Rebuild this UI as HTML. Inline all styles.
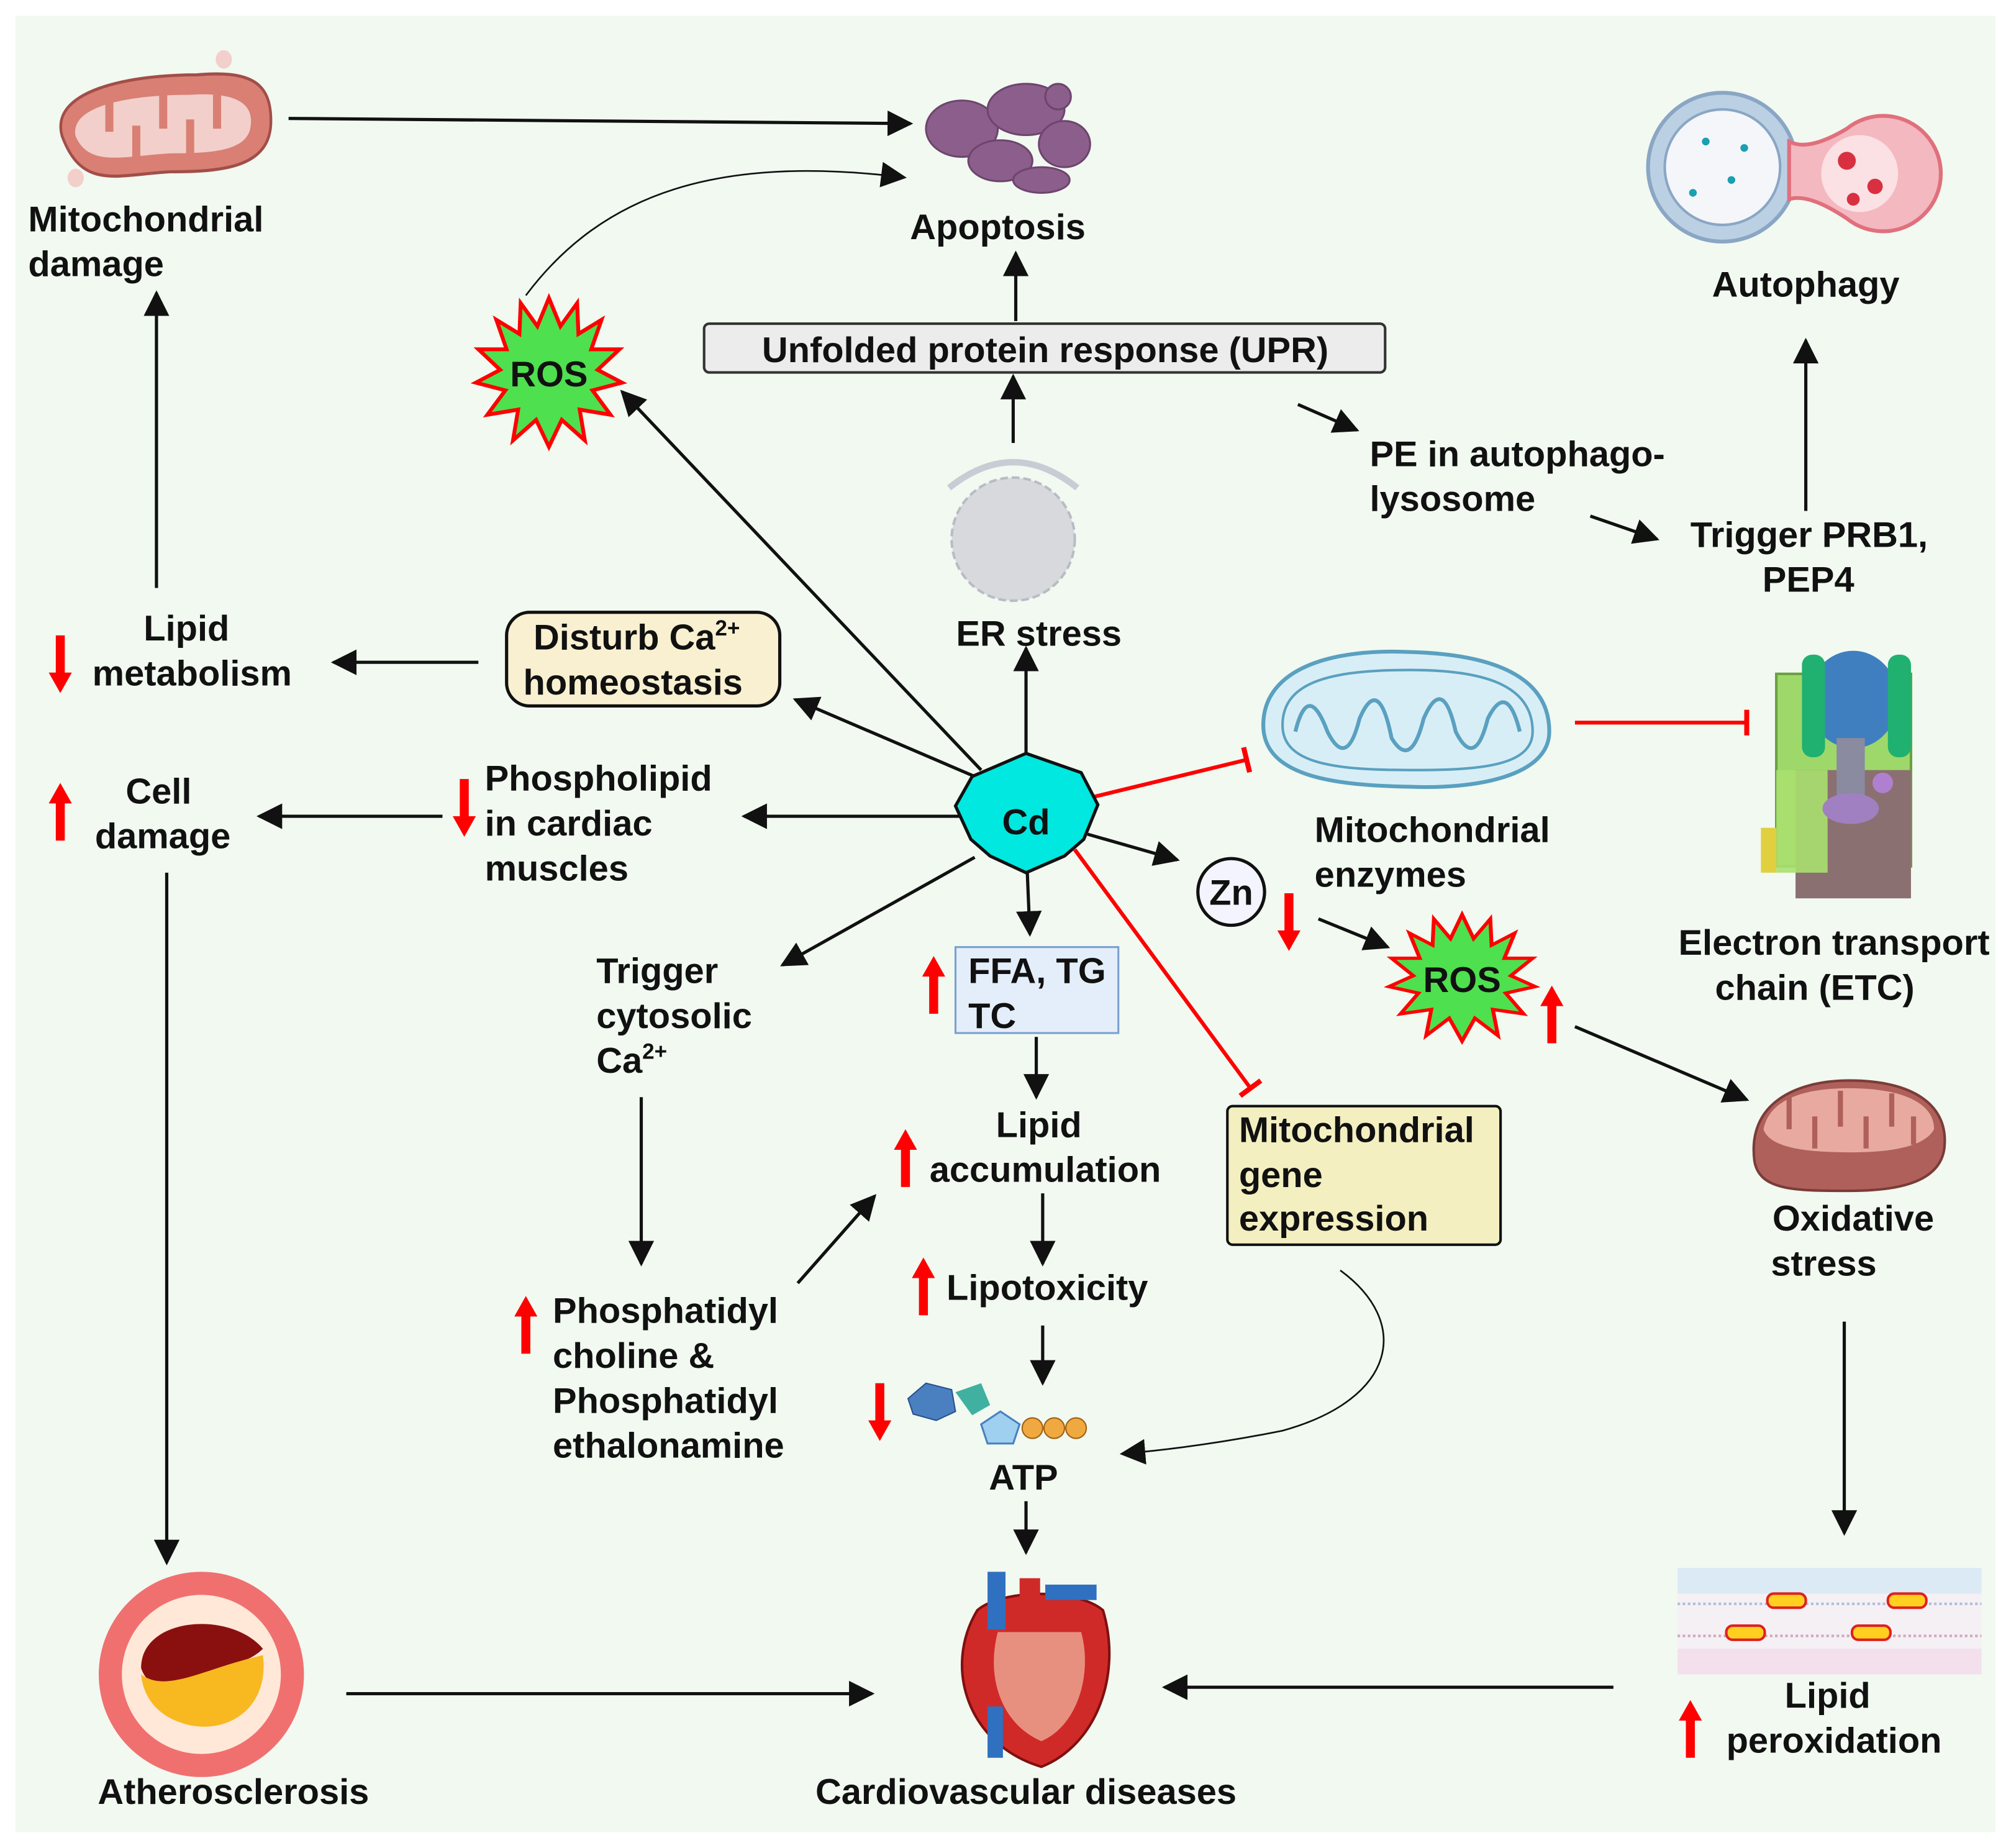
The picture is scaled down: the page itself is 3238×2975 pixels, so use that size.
<!DOCTYPE html>
<html><head><meta charset="utf-8"><style>
html,body{margin:0;padding:0;background:#fff;}
svg{display:block;}
text{font-family:"Liberation Sans",Arial,sans-serif;font-weight:bold;font-size:28px;fill:#111;}
</style></head><body>
<svg width="3238" height="2975" viewBox="0 0 1568 1440" xmlns="http://www.w3.org/2000/svg">
<defs>
<marker id="ab" viewBox="0 0 10 10" refX="9" refY="5" markerWidth="20" markerHeight="20" markerUnits="userSpaceOnUse" orient="auto"><path d="M0,0L10,5L0,10z" fill="#111"/></marker>
<marker id="t" viewBox="0 0 4 20" refX="2" refY="10" markerWidth="4" markerHeight="20" markerUnits="userSpaceOnUse" orient="auto"><rect x="0" y="0" width="4" height="20" fill="#f00"/></marker>
<g id="up"><path d="M0,0L-9,16L-3.5,16L-3.5,45L3.5,45L3.5,16L9,16z" fill="#f00"/></g>
</defs>
<rect x="12" y="12" width="1544" height="1416" fill="#f1f9f1"/>

<g stroke="#111" stroke-width="2.5" fill="none" marker-end="url(#ab)">
<line x1="225" y1="92" x2="710" y2="96"/>
<line x1="122" y1="458" x2="122" y2="228"/>
<line x1="792" y1="250" x2="792" y2="197"/>
<line x1="790" y1="345" x2="790" y2="293"/>
<line x1="800" y1="595" x2="800" y2="505"/>
<line x1="1408" y1="398" x2="1408" y2="265"/>
<line x1="1012" y1="315" x2="1058" y2="335"/>
<line x1="1240" y1="402" x2="1292" y2="420"/>
<line x1="373" y1="516" x2="260" y2="516"/>
<line x1="345" y1="636" x2="202" y2="636"/>
<line x1="760" y1="605" x2="620" y2="545"/>
<line x1="750" y1="636" x2="580" y2="636"/>
<line x1="765" y1="600" x2="485" y2="305"/>
<line x1="760" y1="668" x2="610" y2="752"/>
<line x1="801" y1="680" x2="803" y2="728"/>
<line x1="848" y1="650" x2="918" y2="670"/>
<line x1="1028" y1="716" x2="1082" y2="738"/>
<line x1="1228" y1="800" x2="1362" y2="857"/>
<line x1="1438" y1="1030" x2="1438" y2="1195"/>
<line x1="1258" y1="1315" x2="908" y2="1315"/>
<line x1="270" y1="1320" x2="680" y2="1320"/>
<line x1="130" y1="680" x2="130" y2="1218"/>
<line x1="500" y1="855" x2="500" y2="985"/>
<line x1="622" y1="1000" x2="682" y2="932"/>
<line x1="808" y1="808" x2="808" y2="855"/>
<line x1="813" y1="930" x2="813" y2="985"/>
<line x1="813" y1="1033" x2="813" y2="1078"/>
<line x1="800" y1="1170" x2="800" y2="1210"/>
<path d="M410,230 C470,150 560,120 705,138" stroke-width="1.3"/>
<path d="M1045,990 C1100,1030 1090,1090 1000,1115 C950,1125 910,1130 875,1133" stroke-width="1.3"/>
</g>
<g stroke="#f00" stroke-width="3" fill="none" marker-end="url(#t)">
<line x1="848" y1="622" x2="972" y2="592"/>
<line x1="838" y1="662" x2="975" y2="848"/>
<line x1="1228" y1="563" x2="1362" y2="563"/>
</g>

<!-- mitochondrial damage -->
<g transform="translate(38,40) scale(1.05,1.2)">
<path d="M10,55 C0,25 60,15 110,15 C150,12 165,20 165,45 C165,75 130,78 90,78 C50,80 25,90 10,55z" fill="#d97f74" stroke="#a24e48" stroke-width="2"/>
<path d="M20,55 C15,35 60,28 105,28 C140,26 152,34 150,48 C148,65 120,66 90,66 C55,68 30,75 20,55z" fill="#f2cfca"/>
<g stroke="#d97f74" stroke-width="6"><line x1="45" y1="30" x2="45" y2="52"/><line x1="65" y1="70" x2="65" y2="48"/><line x1="85" y1="28" x2="85" y2="50"/><line x1="105" y1="66" x2="105" y2="44"/><line x1="125" y1="28" x2="125" y2="50"/></g>
<circle cx="130" cy="5" r="6" fill="#f2cfca"/><circle cx="20" cy="82" r="6" fill="#f2cfca"/>
</g>
<!-- apoptosis -->
<g fill="#8c5e8c" stroke="#6d456d" stroke-width="1.5">
<ellipse cx="750" cy="100" rx="28" ry="22"/><ellipse cx="800" cy="85" rx="30" ry="20"/><ellipse cx="830" cy="112" rx="20" ry="18"/><ellipse cx="780" cy="125" rx="25" ry="16"/><circle cx="825" cy="75" r="10"/><ellipse cx="812" cy="140" rx="22" ry="10"/>
</g>
<text x="778" y="186" text-anchor="middle">Apoptosis</text>
<text x="22" y="180">Mitochondrial</text><text x="22" y="215">damage</text>

<!-- ROS stars -->
<polygon transform="translate(428,290)" fill="#4ee04e" stroke="#f00" stroke-width="3" points="0,-58 9,-36 22,-54 23,-30 41,-41 33,-18 55,-18 38,-2 57,8 34,14 48,33 24,29 28,53 10,37 0,58 -10,37 -28,53 -24,29 -48,33 -34,14 -57,8 -38,-2 -55,-18 -33,-18 -41,-41 -23,-30 -22,-54 -9,-36"/>
<text x="428" y="301" text-anchor="middle">ROS</text>
<polygon transform="translate(1140,762) scale(1,0.85)" fill="#4ee04e" stroke="#f00" stroke-width="3" points="0,-58 9,-36 22,-54 23,-30 41,-41 33,-18 55,-18 38,-2 57,8 34,14 48,33 24,29 28,53 10,37 0,58 -10,37 -28,53 -24,29 -48,33 -34,14 -57,8 -38,-2 -55,-18 -33,-18 -41,-41 -23,-30 -22,-54 -9,-36"/>
<text x="1140" y="773" text-anchor="middle">ROS</text>

<!-- UPR -->
<rect x="549" y="252" width="531" height="38" rx="4" fill="#ececec" stroke="#333" stroke-width="2"/>
<text x="815" y="282" text-anchor="middle">Unfolded protein response (UPR)</text>
<!-- ER -->
<circle cx="790" cy="420" r="48" fill="#d8d9dc" stroke="#b8bcc4" stroke-width="2" stroke-dasharray="6 3"/>
<path d="M740,380 Q790,340 840,380" stroke="#c8ccd4" stroke-width="5" fill="none"/>
<text x="810" y="503" text-anchor="middle">ER stress</text>

<!-- autophagy -->
<circle cx="1343" cy="130" r="58" fill="#bcd0e4" stroke="#8aa6c4" stroke-width="3"/>
<circle cx="1343" cy="130" r="45" fill="#f4f6fa" stroke="#8aa6c4" stroke-width="2"/>
<path d="M1395,110 Q1410,118 1440,100 A45,45 0 1 1 1440,170 Q1410,150 1395,155z" fill="#f4b8c0" stroke="#e0707c" stroke-width="3"/>
<circle cx="1450" cy="135" r="30" fill="#fbe0e4"/>
<circle cx="1440" cy="125" r="7" fill="#d83040"/><circle cx="1462" cy="145" r="6" fill="#d83040"/><circle cx="1445" cy="155" r="5" fill="#d83040"/>
<g fill="#1aa0b0"><circle cx="1330" cy="110" r="3"/><circle cx="1350" cy="140" r="3"/><circle cx="1360" cy="115" r="3"/><circle cx="1320" cy="150" r="3"/></g>
<text x="1408" y="231" text-anchor="middle">Autophagy</text>
<text x="1068" y="363">PE in autophago-</text><text x="1068" y="398">lysosome</text>
<text x="1318" y="426">Trigger PRB1,</text><text x="1410" y="461" text-anchor="middle">PEP4</text>

<!-- Disturb Ca -->
<rect x="395" y="477" width="213" height="73" rx="18" fill="#f8f0d0" stroke="#111" stroke-width="2.5"/>
<text x="416" y="506">Disturb Ca<tspan font-size="17" dy="-11">2+</tspan></text>
<text x="408" y="541">homeostasis</text>
<text x="112" y="499">Lipid</text><text x="72" y="534">metabolism</text>
<use href="#up" transform="translate(47,540) rotate(180)"/>
<text x="98" y="626">Cell</text><text x="74" y="661">damage</text>
<use href="#up" transform="translate(47,610)"/>
<text x="378" y="616">Phospholipid</text><text x="378" y="651">in cardiac</text><text x="378" y="686">muscles</text>
<use href="#up" transform="translate(362,652) rotate(180)"/>

<!-- Cd -->
<polygon points="800,587 843,602 856,627 845,654 830,667 800,680 772,667 757,654 745,628 758,605" fill="#00e8e0" stroke="#111" stroke-width="2.5"/>
<text x="800" y="650" text-anchor="middle" font-size="32">Cd</text>

<!-- mito enzymes -->
<path d="M985,565 C985,520 1040,505 1100,508 C1170,510 1208,530 1208,570 C1208,605 1150,615 1100,613 C1040,612 985,605 985,565z" fill="#d8eef6" stroke="#5aa0c0" stroke-width="3"/>
<path d="M1000,565 C1000,530 1040,522 1100,522 C1160,522 1195,535 1195,570 C1195,598 1150,600 1100,600 C1040,600 1000,595 1000,565z" fill="none" stroke="#5aa0c0" stroke-width="2"/>
<path d="M1010,570 Q1020,530 1035,570 Q1050,600 1060,560 Q1075,525 1085,575 Q1100,600 1110,560 Q1125,525 1135,570 Q1150,600 1160,560 Q1175,530 1185,570" fill="none" stroke="#5aa0c0" stroke-width="3"/>
<text x="1025" y="656">Mitochondrial</text><text x="1025" y="691">enzymes</text>

<!-- ETC -->
<rect x="1385" y="525" width="105" height="150" fill="#9ed86a" stroke="#6aa040" stroke-width="2"/>
<rect x="1400" y="600" width="90" height="100" fill="#8a7070"/>
<rect x="1385" y="600" width="40" height="80" fill="#a8e070" opacity="0.9"/>
<ellipse cx="1445" cy="545" rx="35" ry="38" fill="#3f7fc0"/>
<rect x="1405" y="510" width="18" height="80" rx="8" fill="#20b070"/><rect x="1472" y="510" width="18" height="80" rx="8" fill="#20b070"/>
<rect x="1432" y="575" width="22" height="45" fill="#8a8aa0"/>
<ellipse cx="1443" cy="630" rx="22" ry="12" fill="#a080c0"/><circle cx="1468" cy="610" r="8" fill="#b080d0"/>
<rect x="1373" y="645" width="12" height="35" fill="#e0d040"/>
<text x="1430" y="744" text-anchor="middle">Electron transport</text><text x="1415" y="779" text-anchor="middle">chain (ETC)</text>

<!-- Zn -->
<circle cx="960" cy="695" r="26" fill="#f4f4ff" stroke="#111" stroke-width="2.5"/>
<text x="960" y="705" text-anchor="middle">Zn</text>
<use href="#up" transform="translate(1005,741) rotate(180)"/>
<use href="#up" transform="translate(1210,768)"/>

<!-- oxidative -->
<path d="M1368,905 C1362,860 1400,842 1442,842 C1490,842 1520,860 1516,895 C1512,925 1470,928 1442,928 C1400,928 1372,928 1368,905z" fill="#b0605a" stroke="#7a3c38" stroke-width="2"/>
<path d="M1375,880 C1380,855 1410,848 1442,848 C1480,848 1508,858 1508,880 C1500,895 1470,898 1442,898 C1410,898 1380,895 1375,880z" fill="#e8aaa0"/>
<g stroke="#b0605a" stroke-width="4"><line x1="1395" y1="855" x2="1395" y2="880"/><line x1="1415" y1="895" x2="1415" y2="870"/><line x1="1435" y1="850" x2="1435" y2="878"/><line x1="1455" y1="895" x2="1455" y2="870"/><line x1="1475" y1="852" x2="1475" y2="878"/><line x1="1492" y1="892" x2="1492" y2="870"/></g>
<text x="1445" y="959" text-anchor="middle">Oxidative</text><text x="1422" y="994" text-anchor="middle">stress</text>

<!-- lipid peroxidation -->
<rect x="1308" y="1222" width="237" height="83" fill="#f4f0f4"/>
<rect x="1308" y="1222" width="237" height="20" fill="#dceaf6"/>
<rect x="1308" y="1285" width="237" height="20" fill="#f4e0ec"/>
<line x1="1308" y1="1250" x2="1545" y2="1250" stroke="#b0c0d8" stroke-width="2" stroke-dasharray="2 2"/>
<line x1="1308" y1="1275" x2="1545" y2="1275" stroke="#d0a8c0" stroke-width="2" stroke-dasharray="2 2"/>
<g fill="#ffd020" stroke="#e02020" stroke-width="2"><rect x="1378" y="1242" width="30" height="11" rx="5"/><rect x="1472" y="1242" width="30" height="11" rx="5"/><rect x="1346" y="1267" width="30" height="11" rx="5"/><rect x="1444" y="1267" width="30" height="11" rx="5"/></g>
<text x="1425" y="1331" text-anchor="middle">Lipid</text><text x="1430" y="1366" text-anchor="middle">peroxidation</text>
<use href="#up" transform="translate(1318,1325)"/>

<!-- heart -->
<path d="M762,1255 C735,1300 755,1360 812,1377 C855,1360 875,1305 860,1255 C840,1238 782,1238 762,1255z" fill="#d02a28" stroke="#801010" stroke-width="2"/>
<path d="M778,1272 C768,1310 783,1345 812,1357 C840,1345 852,1305 843,1272z" fill="#e89080"/>
<rect x="770" y="1225" width="14" height="45" fill="#3070c0"/><rect x="795" y="1230" width="16" height="40" fill="#d02a28"/><rect x="815" y="1235" width="40" height="12" fill="#3070c0"/>
<rect x="770" y="1330" width="12" height="40" fill="#3070c0"/>
<text x="800" y="1406" text-anchor="middle">Cardiovascular diseases</text>

<!-- atherosclerosis -->
<circle cx="157" cy="1305" r="80" fill="#f07070"/>
<circle cx="157" cy="1305" r="62" fill="#ffe8d8"/>
<path d="M110,1300 C110,1260 180,1255 205,1285 C190,1300 170,1295 150,1310 C130,1320 115,1315 110,1300z" fill="#8a1010"/>
<path d="M110,1305 C130,1320 160,1300 205,1290 C210,1330 180,1350 150,1345 C125,1340 112,1325 110,1305z" fill="#f8b820"/>
<text x="182" y="1406" text-anchor="middle">Atherosclerosis</text>

<!-- left-center column -->
<text x="465" y="766">Trigger</text><text x="465" y="801">cytosolic</text>
<text x="465" y="836">Ca<tspan font-size="17" dy="-11">2+</tspan></text>
<text x="431" y="1031">Phosphatidyl</text><text x="431" y="1066">choline &amp;</text><text x="431" y="1101">Phosphatidyl</text><text x="431" y="1136">ethalonamine</text>
<use href="#up" transform="translate(410,1010)"/>

<!-- FFA -->
<rect x="745" y="738" width="127" height="67" fill="#e4eefa" stroke="#7aa0d0" stroke-width="1.5"/>
<text x="755" y="766">FFA, TG</text><text x="755" y="801">TC</text>
<use href="#up" transform="translate(728,745)"/>
<text x="810" y="886" text-anchor="middle">Lipid</text><text x="815" y="921" text-anchor="middle">accumulation</text>
<use href="#up" transform="translate(706,880)"/>
<text x="738" y="1013">Lipotoxicity</text>
<use href="#up" transform="translate(720,980)"/>
<!-- ATP -->
<polygon points="708,1090 722,1078 742,1083 745,1100 730,1107 712,1102" fill="#4a80c0" stroke="#2a5090" stroke-width="1"/>
<polygon points="745,1085 765,1078 772,1095 758,1103" fill="#40b0a0"/>
<polygon points="765,1110 780,1100 795,1110 790,1125 770,1125" fill="#a0d0f0" stroke="#4a80c0" stroke-width="1.5"/>
<g fill="#f0a840" stroke="#a06010" stroke-width="1"><circle cx="805" cy="1113" r="8"/><circle cx="822" cy="1113" r="8"/><circle cx="839" cy="1113" r="8"/></g>
<text x="798" y="1161" text-anchor="middle">ATP</text>
<use href="#up" transform="translate(686,1123) rotate(180)"/>

<!-- mito gene expression -->
<rect x="957" y="862" width="213" height="108" rx="4" fill="#f3efc0" stroke="#111" stroke-width="2"/>
<text x="966" y="890">Mitochondrial</text><text x="966" y="925">gene</text><text x="966" y="959">expression</text>
</svg>
</body></html>
